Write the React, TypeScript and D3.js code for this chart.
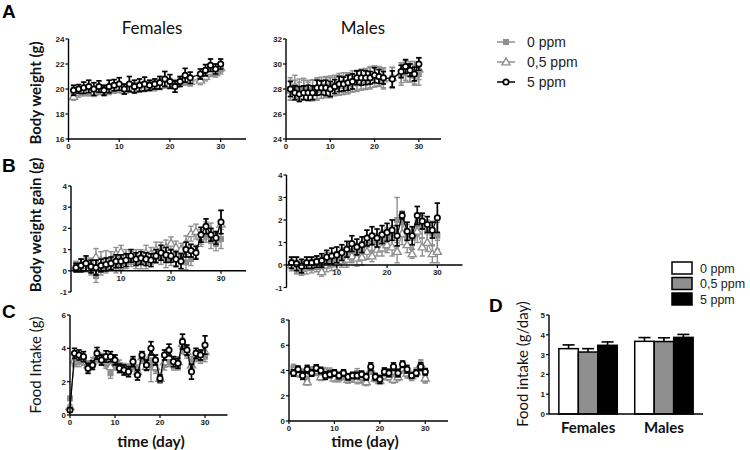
import React from 'react'
import * as d3 from 'd3'

const groups = ['0 ppm', '0,5 ppm', '5 ppm']
const sexes = ['Females', 'Males']

// A - body weight (g)
const bwFemaleDays = [1, 2, 3, 4, 5, 6, 7, 8, 9, 10, 11, 12, 13, 14, 15, 16, 17, 18, 19, 20, 21, 22, 23, 24, 26, 27, 28, 29, 30]
const bwFemale0 = [19.8, 19.8, 19.9, 19.9, 19.8, 20.0, 19.9, 19.9, 20.1, 20.1, 20.0, 20.1, 20.1, 20.2, 20.2, 20.2, 20.3, 20.4, 20.5, 20.5, 20.4, 20.6, 20.7, 20.6, 20.9, 21.2, 21.4, 21.4, 21.6]
const bwFemale05 = [19.4, 19.7, 19.8, 19.8, 19.7, 19.9, 19.8, 19.9, 20.0, 20.1, 19.9, 20.1, 20.0, 20.1, 20.1, 20.2, 20.2, 20.3, 20.5, 20.4, 20.4, 20.6, 20.8, 20.6, 20.7, 21.0, 21.4, 21.3, 21.7]
const bwFemale5 = [19.9, 20.0, 20.1, 20.2, 20.0, 20.2, 19.9, 20.2, 20.3, 20.4, 20.0, 20.4, 20.2, 20.3, 20.4, 20.3, 20.4, 20.5, 20.8, 20.6, 20.2, 20.6, 21.1, 20.9, 21.2, 21.5, 21.9, 21.6, 22.0]
const bwFemaleErr0 = [0.35, 0.3, 0.35, 0.4, 0.35, 0.35, 0.3, 0.35, 0.35, 0.4, 0.35, 0.35, 0.4, 0.35, 0.4, 0.35, 0.35, 0.4, 0.4, 0.35, 0.35, 0.35, 0.4, 0.35, 0.35, 0.4, 0.4, 0.35, 0.4]
const bwFemaleErr05 = [0.3, 0.35, 0.35, 0.35, 0.3, 0.35, 0.35, 0.3, 0.35, 0.35, 0.3, 0.35, 0.35, 0.35, 0.3, 0.35, 0.35, 0.35, 0.4, 0.35, 0.35, 0.35, 0.4, 0.35, 0.35, 0.35, 0.4, 0.35, 0.35]
const bwFemaleErr5 = [0.4, 0.35, 0.45, 0.5, 0.5, 0.45, 0.4, 0.5, 0.45, 0.5, 0.4, 0.6, 0.5, 0.5, 0.55, 0.4, 0.4, 0.5, 0.6, 0.55, 0.45, 0.4, 0.55, 0.45, 0.4, 0.45, 0.5, 0.4, 0.4]

const bwMaleDays = [1, 2, 3, 4, 5, 6, 7, 8, 9, 10, 11, 12, 13, 14, 15, 16, 17, 18, 19, 20, 21, 22, 24, 26, 27, 28, 29, 30]
const bwMale0 = [28.0, 28.2, 28.0, 28.0, 27.9, 27.9, 28.0, 28.1, 28.2, 28.2, 28.3, 28.4, 28.5, 28.5, 28.6, 28.7, 28.8, 28.8, 28.9, 29.0, 29.0, 28.9, 28.9, 29.2, 29.4, 29.4, 29.3, 29.2]
const bwMale05 = [27.9, 27.9, 27.8, 27.9, 27.8, 27.9, 28.0, 28.0, 28.1, 28.1, 28.2, 28.3, 28.3, 28.4, 28.5, 28.6, 28.7, 28.8, 28.9, 29.0, 29.0, 28.8, 28.9, 29.3, 29.5, 29.3, 29.1, 29.6]
const bwMale5 = [28.0, 27.7, 27.6, 27.7, 27.7, 27.7, 28.1, 28.1, 28.1, 28.0, 28.2, 28.4, 28.4, 28.5, 28.6, 28.9, 28.9, 28.9, 28.9, 29.1, 29.0, 28.9, 28.8, 29.4, 29.8, 29.5, 29.2, 30.0]
const bwMaleErr0 = [0.9, 0.9, 0.8, 0.85, 0.8, 0.85, 0.9, 0.85, 0.8, 0.85, 0.8, 0.85, 0.8, 0.8, 0.85, 0.8, 0.8, 0.85, 0.9, 0.85, 0.8, 0.8, 0.85, 0.9, 0.85, 0.8, 0.9, 0.9]
const bwMaleErr05 = [0.8, 0.8, 0.75, 0.8, 0.75, 0.8, 0.8, 0.75, 0.8, 0.8, 0.75, 0.8, 0.75, 0.8, 0.75, 0.8, 0.8, 0.75, 0.8, 0.8, 0.75, 0.8, 0.8, 0.8, 0.8, 0.75, 0.8, 0.85]
const bwMaleErr5 = [0.6, 0.55, 0.6, 0.55, 0.6, 0.55, 0.6, 0.55, 0.6, 0.6, 0.55, 0.6, 0.55, 0.6, 0.6, 0.55, 0.6, 0.55, 0.5, 0.6, 0.55, 0.5, 0.65, 0.5, 0.55, 0.5, 0.55, 0.5]

// B - body weight gain (g)
const gainDays = [1, 2, 3, 4, 5, 6, 7, 8, 9, 10, 11, 12, 13, 14, 15, 16, 17, 18, 19, 20, 21, 22, 23, 24, 25, 26, 27, 28, 29, 30]
const gainFemale0 = [0.2, 0.25, 0.3, 0.1, -0.25, 0.1, 0.2, 0.3, 0.2, 0.35, 0.4, 0.5, 0.4, 0.4, 0.45, 0.6, 0.65, 0.6, 0.5, 0.55, 0.55, 0.6, 0.4, 0.55, 0.9, 1.5, 1.7, 1.4, 1.3, 1.5]
const gainFemale05 = [0.2, 0.3, 0.25, 0.3, 0.65, 0.5, 0.5, 0.5, 0.8, 0.9, 0.7, 0.6, 0.7, 0.65, 0.85, 0.8, 1.0, 1.0, 1.1, 1.3, 1.1, 1.0, 1.3, 1.75, 1.85, 1.6, 1.9, 1.9, 1.5, 2.2]
const gainFemale5 = [0.15, 0.25, 0.35, 0.2, 0.15, 0.25, 0.3, 0.35, 0.45, 0.45, 0.5, 0.7, 0.55, 0.6, 0.55, 0.5, 0.7, 0.85, 0.75, 0.7, 0.55, 0.45, 1.0, 0.95, 0.85, 1.7, 2.1, 1.7, 1.55, 2.3]
const gainFemaleErr0 = [0.25, 0.3, 0.3, 0.3, 0.3, 0.3, 0.3, 0.25, 0.3, 0.3, 0.3, 0.3, 0.3, 0.3, 0.35, 0.3, 0.3, 0.3, 0.35, 0.3, 0.3, 0.3, 0.35, 0.3, 0.3, 0.35, 0.35, 0.35, 0.35, 0.45]
const gainFemaleErr05 = [0.2, 0.25, 0.3, 0.3, 0.4, 0.4, 0.45, 0.4, 0.3, 0.3, 0.3, 0.3, 0.3, 0.35, 0.35, 0.3, 0.35, 0.35, 0.35, 0.3, 0.3, 0.3, 0.35, 0.35, 0.35, 0.35, 0.4, 0.35, 0.35, 0.65]
const gainFemaleErr5 = [0.2, 0.3, 0.35, 0.3, 0.35, 0.3, 0.3, 0.3, 0.3, 0.3, 0.3, 0.3, 0.3, 0.3, 0.3, 0.3, 0.3, 0.35, 0.35, 0.3, 0.35, 0.35, 0.35, 0.3, 0.3, 0.35, 0.35, 0.3, 0.3, 0.55]

const gainMale0 = [0.05, 0.0, -0.1, 0.05, 0.05, 0.1, 0.1, 0.2, 0.25, 0.3, 0.4, 0.5, 0.6, 0.6, 0.7, 0.9, 1.0, 1.0, 1.1, 1.2, 1.3, 2.0, 1.9, 1.3, 1.2, 1.8, 1.7, 1.5, 1.4, 1.3]
const gainMale05 = [0.0, -0.1, -0.15, -0.1, -0.05, 0.0, -0.3, 0.0, 0.05, 0.1, 0.2, 0.25, 0.4, 0.3, 0.35, 0.6, 0.4, 0.7, 0.75, 0.9, 0.8, 0.6, 1.4, 0.9, 0.5, 1.5, 0.8, 1.0, 0.5, 0.6]
const gainMale5 = [0.1, 0.05, -0.05, 0.1, 0.1, 0.15, 0.2, 0.35, 0.4, 0.45, 0.55, 0.7, 0.95, 0.8, 0.9, 1.2, 1.3, 1.2, 1.35, 1.45, 1.55, 1.3, 2.2, 1.5, 1.3, 2.2, 1.95, 1.8, 1.55, 2.1]
const gainMaleErr0 = [0.3, 0.35, 0.35, 0.3, 0.3, 0.3, 0.3, 0.35, 0.3, 0.3, 0.35, 0.35, 0.35, 0.35, 0.35, 0.35, 0.4, 0.4, 0.45, 0.45, 0.45, 1.0, 0.5, 0.5, 0.5, 0.5, 0.5, 0.5, 0.55, 0.6]
const gainMaleErr05 = [0.25, 0.3, 0.3, 0.3, 0.3, 0.3, 0.2, 0.3, 0.3, 0.3, 0.3, 0.35, 0.3, 0.35, 0.35, 0.35, 0.25, 0.3, 0.35, 0.35, 0.4, 0.5, 0.5, 0.35, 0.2, 0.5, 0.4, 0.4, 0.4, 0.5]
const gainMaleErr5 = [0.25, 0.3, 0.3, 0.25, 0.25, 0.25, 0.3, 0.3, 0.35, 0.35, 0.35, 0.35, 0.35, 0.35, 0.35, 0.35, 0.4, 0.4, 0.4, 0.4, 0.45, 0.45, 0.15, 0.4, 0.4, 0.4, 0.35, 0.35, 0.35, 0.65]

// C - food intake (g)
const fiFemaleDays = [0, 1, 2, 3, 4, 5, 6, 7, 8, 9, 10, 11, 12, 13, 14, 15, 16, 17, 18, 19, 20, 21, 22, 23, 24, 25, 26, 27, 28, 29, 30]
const fiFemale0 = [1.0, 3.1, 3.2, 3.3, 2.9, 3.0, 3.5, 3.4, 3.1, 2.5, 3.0, 3.0, 2.8, 2.7, 3.0, 2.7, 3.4, 3.0, 3.0, 2.8, 2.1, 3.0, 3.2, 3.0, 3.0, 4.0, 3.7, 3.2, 3.5, 3.4, 3.5]
const fiFemale05 = [0.5, 3.3, 3.4, 3.3, 3.0, 3.2, 3.6, 3.3, 3.2, 2.9, 3.3, 2.9, 2.8, 2.8, 3.1, 2.6, 3.5, 2.9, 3.6, 2.9, 2.2, 3.2, 3.5, 3.1, 3.2, 4.3, 3.8, 3.0, 3.6, 3.5, 3.8]
const fiFemale5 = [0.3, 3.7, 3.6, 3.5, 2.8, 3.0, 3.7, 3.3, 3.5, 3.5, 3.3, 2.8, 2.7, 2.6, 3.2, 2.4, 3.6, 3.0, 4.0, 3.3, 2.2, 3.6, 3.9, 3.2, 3.1, 4.4, 3.9, 2.6, 3.7, 3.6, 4.2]
const fiFemaleErr0 = [0.1, 0.2, 0.3, 0.3, 0.3, 0.3, 0.3, 0.3, 0.3, 0.3, 0.3, 0.3, 0.3, 0.3, 0.3, 0.3, 0.3, 0.3, 1.0, 0.3, 0.2, 0.3, 0.3, 0.3, 0.3, 0.3, 0.3, 0.3, 0.3, 0.3, 0.3]
const fiFemaleErr05 = [0.1, 0.25, 0.3, 0.3, 0.25, 0.25, 0.3, 0.3, 0.3, 0.3, 0.3, 0.25, 0.25, 0.25, 0.3, 0.25, 0.3, 0.25, 0.35, 0.25, 0.2, 0.3, 0.3, 0.3, 0.3, 0.3, 0.3, 0.3, 0.3, 0.3, 0.3]
const fiFemaleErr5 = [0.1, 0.3, 0.3, 0.3, 0.3, 0.25, 0.35, 0.3, 0.35, 0.3, 0.3, 0.25, 0.3, 0.3, 0.3, 0.3, 0.2, 0.3, 0.4, 0.3, 0.2, 0.3, 0.35, 0.3, 0.3, 0.45, 0.3, 0.45, 0.3, 0.3, 0.55]

const fiMaleDays = [1, 2, 3, 4, 5, 6, 7, 8, 9, 10, 11, 12, 13, 14, 15, 16, 17, 18, 19, 20, 21, 22, 23, 24, 25, 26, 27, 28, 29, 30]
const fiMale0 = [4.2, 3.9, 3.8, 3.2, 4.0, 3.9, 3.6, 3.8, 3.9, 3.5, 3.4, 3.6, 3.3, 3.5, 3.8, 3.3, 3.2, 4.0, 3.5, 3.3, 3.8, 3.6, 3.4, 3.6, 4.1, 3.7, 3.5, 3.8, 4.4, 3.3]
const fiMale05 = [4.0, 3.8, 3.7, 3.1, 3.9, 4.0, 3.5, 3.9, 3.7, 3.4, 3.5, 3.7, 3.3, 3.4, 3.3, 3.5, 3.1, 4.1, 3.4, 3.2, 3.6, 3.5, 3.3, 3.5, 4.2, 3.8, 3.6, 3.9, 4.5, 3.4]
const fiMale5 = [3.8, 4.1, 3.6, 4.1, 3.8, 4.2, 4.0, 3.6, 3.7, 3.8, 3.6, 3.8, 3.5, 3.6, 3.6, 3.7, 3.5, 4.3, 3.5, 3.3, 3.9, 3.8, 4.3, 3.8, 4.5, 4.1, 3.6, 3.8, 4.3, 3.9]
const fiMaleErr0 = [0.3, 0.35, 0.3, 0.3, 0.3, 0.3, 0.3, 0.3, 0.3, 0.3, 0.3, 0.3, 0.3, 0.35, 0.35, 0.3, 0.3, 0.3, 0.3, 0.3, 0.3, 0.3, 0.3, 0.3, 0.3, 0.3, 0.3, 0.3, 0.35, 0.3]
const fiMaleErr05 = [0.3, 0.3, 0.3, 0.25, 0.3, 0.3, 0.3, 0.3, 0.3, 0.3, 0.3, 0.3, 0.3, 0.3, 0.35, 0.3, 0.3, 0.3, 0.3, 0.3, 0.3, 0.3, 0.3, 0.3, 0.3, 0.3, 0.3, 0.3, 0.35, 0.3]
const fiMaleErr5 = [0.25, 0.25, 0.3, 0.3, 0.25, 0.25, 0.25, 0.3, 0.25, 0.25, 0.25, 0.25, 0.25, 0.25, 0.25, 0.25, 0.25, 0.3, 0.25, 0.3, 0.3, 0.3, 0.3, 0.3, 0.25, 0.3, 0.2, 0.25, 0.3, 0.25]

// D - mean food intake (g/day)
const meanIntakeFemale = [3.3, 3.13, 3.47]
const meanIntakeMale = [3.67, 3.66, 3.87]
const meanIntakeFemaleErr = [0.19, 0.17, 0.17]
const meanIntakeMaleErr = [0.19, 0.19, 0.15]

const GRAY = '#8f8f8f'
const tickFont = '"Liberation Sans", Arial, sans-serif'
const labelFont = 'Lato, "Open Sans", sans-serif'

function Marker ({ kind, x, y }: { kind: number, x: number, y: number }) {
  if (kind === 0) {
    return <rect x={x - 3} y={y - 3} width={6} height={6} fill={GRAY} />
  }
  if (kind === 1) {
    const tri = d3.symbol(d3.symbolTriangle, 28)()
    return <path d={tri || ''} transform={`translate(${x},${y + 0.6})`} fill='#fff' stroke={GRAY} strokeWidth={1.4} />
  }
  return <circle cx={x} cy={y} r={2.7} fill='#fff' stroke='#000' strokeWidth={1.7} />
}

type PanelProps = {
  days: number[]
  values: number[][]
  errs: number[][]
  xr: [number, number]
  yr: [number, number]
  yDomain: [number, number]
  yTicks: number[]
  xTicks: number[]
}

function TimePanel ({ days, values, errs, xr, yr, yDomain, yTicks, xTicks }: PanelProps) {
  const x = d3.scaleLinear().domain([0, 35]).range(xr)
  const y = d3.scaleLinear().domain(yDomain).range(yr)
  const baseY = y(Math.max(yDomain[0], 0))
  const line = d3.line<number>().x((_, i) => x(days[i])).y(v => y(v))
  return (
    <g>
      {values.map((vals, s) => {
        const col = s === 2 ? '#000' : GRAY
        return (
          <g key={s}>
            <path d={line(vals) || ''} fill='none' stroke={col} strokeWidth={s === 2 ? 1.2 : 1} />
            {vals.map((v, i) => {
              const cx = x(days[i])
              const top = y(v + errs[s][i])
              const bot = y(v - errs[s][i])
              return (
                <g key={i} stroke={col} strokeWidth={s === 2 ? 1.7 : 1.4}>
                  <line x1={cx} x2={cx} y1={top} y2={bot} />
                  <line x1={cx - 2.7} x2={cx + 2.7} y1={top} y2={top} />
                  <line x1={cx - 2.7} x2={cx + 2.7} y1={bot} y2={bot} />
                </g>
              )
            })}
            {vals.map((v, i) => <Marker key={i} kind={s} x={x(days[i])} y={y(v)} />)}
          </g>
        )
      })}
      <line x1={xr[0]} x2={xr[0]} y1={yr[0]} y2={yr[1]} stroke='#000' strokeWidth={1.4} />
      <line x1={xr[0]} x2={xr[1]} y1={baseY} y2={baseY} stroke='#000' strokeWidth={1.4} />
      {yTicks.map(t => (
        <g key={t}>
          <line x1={xr[0] - 3} x2={xr[0]} y1={y(t)} y2={y(t)} stroke='#000' strokeWidth={1.2} />
          <text x={xr[0] - 4} y={y(t) + 3} textAnchor='end' fontFamily={tickFont} fontSize={8} fontWeight='bold' fill='#222'>{t}</text>
        </g>
      ))}
      {xTicks.map(t => (
        <g key={t}>
          <line x1={x(t)} x2={x(t)} y1={baseY} y2={baseY + 3} stroke='#000' strokeWidth={1.2} />
          <text x={x(t)} y={baseY + 10} textAnchor='middle' fontFamily={tickFont} fontSize={8} fontWeight='bold' fill='#222'>{t}</text>
        </g>
      ))}
    </g>
  )
}

function BarPanel () {
  const y = d3.scaleLinear().domain([0, 5]).range([414, 315])
  const outer = d3.scaleBand().domain(sexes).range([549, 703]).paddingInner(0.23).paddingOuter(0.13)
  const inner = d3.scaleBand().domain(groups).range([0, outer.bandwidth()])
  const fills = ['#fff', GRAY, '#000']
  const data = [meanIntakeFemale, meanIntakeMale]
  const errs = [meanIntakeFemaleErr, meanIntakeMaleErr]
  return (
    <g>
      {sexes.map((sx, k) => (
        <g key={sx}>
          {groups.map((g, s) => {
            const bx = (outer(sx) || 0) + (inner(g) || 0)
            const w = inner.bandwidth()
            const v = data[k][s]
            const cx = bx + w / 2
            return (
              <g key={g}>
                <line x1={cx} x2={cx} y1={y(v)} y2={y(v + errs[k][s])} stroke='#000' strokeWidth={1.6} />
                <line x1={cx - 6} x2={cx + 6} y1={y(v + errs[k][s])} y2={y(v + errs[k][s])} stroke='#000' strokeWidth={1.6} />
                <rect x={bx} y={y(v)} width={w} height={y(0) - y(v)} fill={fills[s]} stroke='#000' strokeWidth={1.5} />
              </g>
            )
          })}
          <text x={(outer(sx) || 0) + outer.bandwidth() / 2} y={433} textAnchor='middle' fontFamily={labelFont} fontWeight='bold' fontSize={15} fill='#111'>{sx}</text>
        </g>
      ))}
      <line x1={549} x2={549} y1={414} y2={315} stroke='#000' strokeWidth={1.4} />
      <line x1={549} x2={703} y1={414} y2={414} stroke='#000' strokeWidth={1.4} />
      {y.ticks(5).map(t => (
        <g key={t}>
          <line x1={546} x2={549} y1={y(t)} y2={y(t)} stroke='#000' strokeWidth={1.2} />
          <text x={545} y={y(t) + 3} textAnchor='end' fontFamily={tickFont} fontSize={8} fontWeight='bold' fill='#222'>{t}</text>
        </g>
      ))}
      {groups.map((g, s) => (
        <g key={g}>
          <rect x={672} y={262 + s * 15.5} width={20} height={12} fill={fills[s]} stroke='#000' strokeWidth={1.5} />
          <text x={700} y={272.5 + s * 15.5} fontFamily={tickFont} fontSize={12.5} fill='#222'>{g}</text>
        </g>
      ))}
    </g>
  )
}

export default function App () {
  return (
    <svg width={750} height={450} style={{ position: 'absolute', left: 0, top: 0, background: '#fff' }}>
      <rect width={750} height={450} fill='#fff' />
      {/* panel letters */}
      <text x={2} y={18} fontFamily={tickFont} fontWeight='bold' fontSize={19}>A</text>
      <text x={2} y={172} fontFamily={tickFont} fontWeight='bold' fontSize={19}>B</text>
      <text x={2} y={318} fontFamily={tickFont} fontWeight='bold' fontSize={19}>C</text>
      <text x={489} y={312} fontFamily={tickFont} fontWeight='bold' fontSize={19}>D</text>

      <text x={152} y={34} textAnchor='middle' fontFamily={labelFont} fontSize={17} fill='#111'>Females</text>
      <text x={363} y={34} textAnchor='middle' fontFamily={labelFont} fontSize={17} fill='#111'>Males</text>

      <text transform='translate(41,93) rotate(-90)' textAnchor='middle' fontFamily={labelFont} fontWeight='bold' fontSize={15} fill='#111'>Body weight (g)</text>
      <text transform='translate(41,225) rotate(-90)' textAnchor='middle' fontFamily={labelFont} fontWeight='bold' fontSize={15} fill='#111'>Body weight gain (g)</text>
      <text transform='translate(41,365) rotate(-90)' textAnchor='middle' fontFamily={labelFont} fontSize={15} fill='#111'>Food Intake (g)</text>
      <text transform='translate(528,364) rotate(-90)' textAnchor='middle' fontFamily={labelFont} fontSize={15} fill='#111'>Food intake (g/day)</text>

      <text x={151} y={447} textAnchor='middle' fontFamily={labelFont} fontWeight='bold' fontSize={15.5} fill='#111'>time (day)</text>
      <text x={365} y={447} textAnchor='middle' fontFamily={labelFont} fontWeight='bold' fontSize={15.5} fill='#111'>time (day)</text>

      <TimePanel days={bwFemaleDays} values={[bwFemale0, bwFemale05, bwFemale5]} errs={[bwFemaleErr0, bwFemaleErr05, bwFemaleErr5]}
        xr={[68.5, 246]} yr={[139, 39]} yDomain={[16, 24]} yTicks={[16, 18, 20, 22, 24]} xTicks={[0, 10, 20, 30]} />
      <TimePanel days={bwMaleDays} values={[bwMale0, bwMale05, bwMale5]} errs={[bwMaleErr0, bwMaleErr05, bwMaleErr5]}
        xr={[286, 441]} yr={[139, 39]} yDomain={[24, 32]} yTicks={[24, 26, 28, 30, 32]} xTicks={[0, 10, 20, 30]} />
      <TimePanel days={gainDays} values={[gainFemale0, gainFemale05, gainFemale5]} errs={[gainFemaleErr0, gainFemaleErr05, gainFemaleErr5]}
        xr={[71, 246]} yr={[292, 186]} yDomain={[-1, 4]} yTicks={[-1, 0, 1, 2, 3, 4]} xTicks={[10, 20, 30]} />
      <TimePanel days={gainDays} values={[gainMale0, gainMale05, gainMale5]} errs={[gainMaleErr0, gainMaleErr05, gainMaleErr5]}
        xr={[286.5, 462.5]} yr={[287.5, 175]} yDomain={[-1, 4]} yTicks={[-1, 0, 1, 2, 3, 4]} xTicks={[10, 20, 30]} />
      <TimePanel days={fiFemaleDays} values={[fiFemale0, fiFemale05, fiFemale5]} errs={[fiFemaleErr0, fiFemaleErr05, fiFemaleErr5]}
        xr={[70, 227.5]} yr={[415, 315]} yDomain={[0, 6]} yTicks={[0, 2, 4, 6]} xTicks={[0, 10, 20, 30]} />
      <TimePanel days={fiMaleDays} values={[fiMale0, fiMale05, fiMale5]} errs={[fiMaleErr0, fiMaleErr05, fiMaleErr5]}
        xr={[289, 448]} yr={[421, 320]} yDomain={[0, 8]} yTicks={[0, 2, 4, 6, 8]} xTicks={[0, 10, 20, 30]} />

      <BarPanel />

      {/* legend for time courses */}
      {groups.map((g, s) => {
        const ly = 42 + s * 20
        return (
          <g key={g}>
            <line x1={497} x2={515} y1={ly} y2={ly} stroke={s === 2 ? '#000' : GRAY} strokeWidth={1.5} />
            <Marker kind={s} x={506} y={ly} />
            <text x={527} y={ly + 5} fontFamily={tickFont} fontSize={14} fill='#222'>{g}</text>
          </g>
        )
      })}
    </svg>
  )
}
